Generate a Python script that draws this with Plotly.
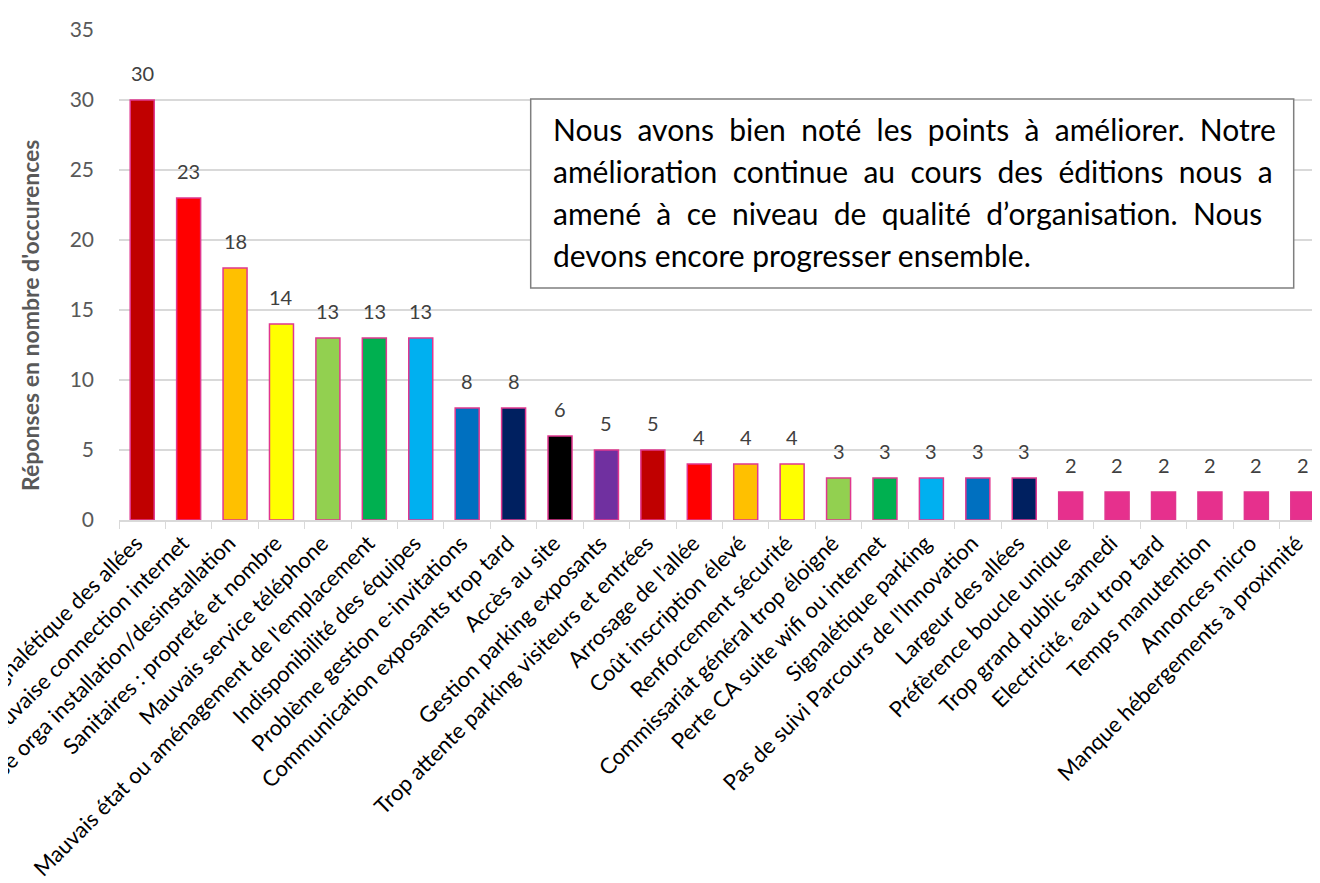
import plotly.graph_objects as go

categories = [
    "Signalétique des allées",
    "Mauvaise connection internet",
    "Mauvaise orga installation/desinstallation",
    "Sanitaires : propreté et nombre",
    "Mauvais service téléphone",
    "Mauvais état ou aménagement de l'emplacement",
    "Indisponibilité des équipes",
    "Problème gestion e-invitations",
    "Communication exposants trop tard",
    "Accès au site",
    "Gestion parking exposants",
    "Trop attente parking visiteurs et entrées",
    "Arrosage de l'allée",
    "Coût inscription élevé",
    "Renforcement sécurité",
    "Commissariat général trop éloigné",
    "Perte CA suite wifi ou internet",
    "Signalétique parking",
    "Pas de suivi Parcours de l'Innovation",
    "Largeur des allées",
    "Préfèrence boucle unique",
    "Trop grand public samedi",
    "Electricité, eau trop tard",
    "Temps manutention",
    "Annonces micro",
    "Manque hébergements à proximité",
]
values = [30, 23, 18, 14, 13, 13, 13, 8, 8, 6, 5, 5, 4, 4, 4, 3, 3, 3, 3, 3, 2, 2, 2, 2, 2, 2]
colors = [
    "#C00000", "#FF0000", "#FFC000", "#FFFF00", "#92D050", "#00B050", "#00B0F0",
    "#0070C0", "#002060", "#000000", "#7030A0", "#C00000", "#FF0000", "#FFC000",
    "#FFFF00", "#92D050", "#00B050", "#00B0F0", "#0070C0", "#002060",
    "#E6308D", "#E6308D", "#E6308D", "#E6308D", "#E6308D", "#E6308D",
]
y_title = "Réponses en nombre d'occurences"
note_lines = [
    "Nous avons bien noté les points à améliorer. Notre",
    "amélioration continue au cours des éditions nous a",
    "amené à ce niveau de qualité d’organisation. Nous",
    "devons encore progresser ensemble.",
]

FONT = "Lato, 'Open Sans', sans-serif"
W, H = 1320, 883
L, R, T, B = 111, 2, 22, 371
PW, PH = W - L - R, H - T - B


def px(x):
    return (x - L) / PW


def py(y):
    return (H - B - y) / PH


fig = go.Figure(go.Bar(
    x=categories,
    y=values,
    marker=dict(color=colors, line=dict(color="#E0378F", width=1.5)),
    hoverinfo="x+y",
))

# data labels above bars
for c, v in zip(categories, values):
    fig.add_annotation(
        x=c, y=v, xref="x", yref="y", text=str(v), showarrow=False,
        yanchor="bottom", yshift=13,
        font=dict(family=FONT, size=20, color="#404040"),
    )

fig.update_layout(
    width=W, height=H,
    paper_bgcolor="white", plot_bgcolor="white",
    margin=dict(l=L, r=R, t=T, b=B),
    bargap=0.483,
    showlegend=False,
    font=dict(family=FONT),
    xaxis=dict(
        tickangle=-45, automargin=False,
        tickfont=dict(family=FONT, size=22, color="#000000"),
        ticklabelshift=-6,
        showline=True, linecolor="#D9D9D9", linewidth=1.5,
        ticks="outside", tickson="boundaries", ticklen=7, tickcolor="#D9D9D9",
        showgrid=False,
    ),
    yaxis=dict(
        range=[0, 35], dtick=5, automargin=False,
        showgrid=True, gridcolor="#D9D9D9", gridwidth=1.5,
        zeroline=False,
        tickfont=dict(family=FONT, size=21, color="#595959"),
        ticks="", ticklabelstandoff=24,
    ),
)

# y axis title
fig.add_annotation(
    xref="paper", yref="paper", x=px(22), y=py(308),
    text="<b>" + y_title + "</b>", textangle=-90, showarrow=False,
    xanchor="center", yanchor="middle",
    font=dict(family=FONT, size=23, color="#595959"),
)

# text box
fig.add_shape(
    type="rect", xref="paper", yref="paper",
    x0=px(522.7), x1=px(1285.7), y0=py(280), y1=py(91),
    line=dict(color="#7F7F7F", width=1.5), fillcolor="white", layer="above",
)
gap = " \u00a0"
baselines = [132.5, 174.4, 216.3, 258.2]
for i, (line, base) in enumerate(zip(note_lines, baselines)):
    txt = line if i == len(note_lines) - 1 else line.replace(" ", gap)
    fig.add_annotation(
        xref="paper", yref="paper", x=px(543), y=py(base - 11.6),
        text=txt, showarrow=False, xanchor="left", yanchor="middle", align="left",
        font=dict(family=FONT, size=30, color="#000000"),
    )

fig.write_html("out.html")
